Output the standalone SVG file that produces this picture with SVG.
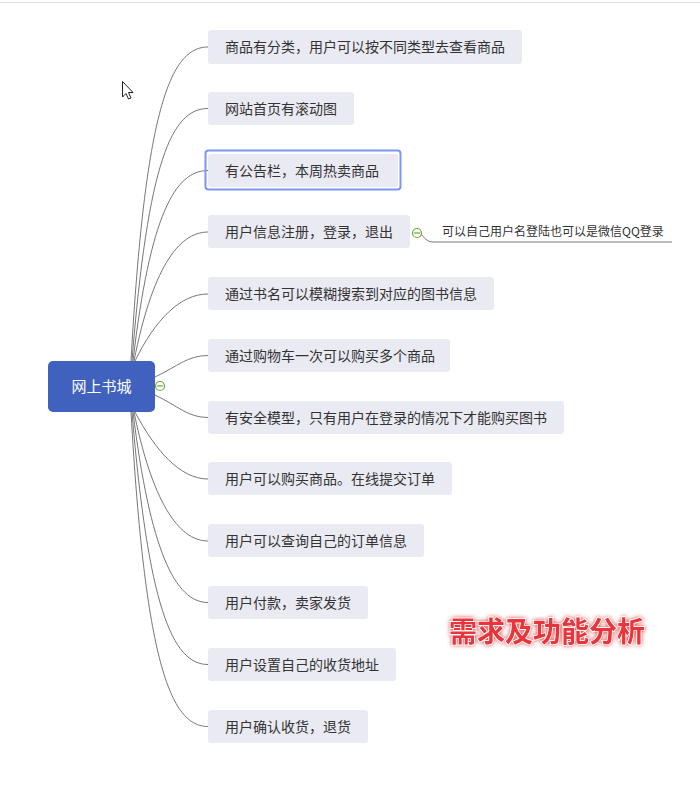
<svg xmlns="http://www.w3.org/2000/svg" width="700" height="785" viewBox="0 0 700 785">
<defs>
<style>
.box{fill:#eaeaf2}
.t{font-family:"Noto Sans CJK SC","Liberation Sans",sans-serif;font-size:14px;fill:#333}
.st{font-family:"Noto Sans CJK SC","Liberation Sans",sans-serif;font-size:12px;fill:#333}
.c{fill:none;stroke:#777;stroke-width:1}
.tog{fill:#fff;stroke:#6aa82e;stroke-width:1.2}
</style>
<filter id="glow" x="-10%" y="-30%" width="120%" height="160%">
<feGaussianBlur in="SourceAlpha" stdDeviation="2.2" result="b"/>
<feFlood flood-color="#e23b3b"/>
<feComposite in2="b" operator="in" result="s"/>
<feMerge><feMergeNode in="s"/><feMergeNode in="SourceGraphic"/></feMerge>
</filter>
</defs>
<rect width="700" height="785" fill="#fff"/>
<line x1="0" y1="2.5" x2="700" y2="2.5" stroke="#e2e2e2" stroke-width="1"/>
<g id="connectors">
<path class="c" d="M131 361 C145 110 170 47 208 47"/>
<path class="c" d="M132 361 C148 160 172 108.5 208 108.5"/>
<path class="c" d="M133 361 C150 215 175 170.5 208 170.5"/>
<path class="c" d="M134 361 C152 270 178 232 208 232"/>
<path class="c" d="M135 361 C155 320 180 294 208 294"/>
<path class="c" d="M155 377 C178 366 188 355.5 208 355.5"/>
<path class="c" d="M155 395 C178 406 188 417.5 208 417.5"/>
<path class="c" d="M135 412 C155 450 180 479 208 479"/>
<path class="c" d="M134 412 C152 500 178 541 208 541"/>
<path class="c" d="M133 412 C150 550 175 602.5 208 602.5"/>
<path class="c" d="M132 412 C148 605 172 664.5 208 664.5"/>
<path class="c" d="M131 412 C145 660 170 726.5 208 726.5"/>
<path class="c" d="M421 234 C426 240 428 242 434 242 L672 242"/>
</g>
<g id="root">
<rect x="48" y="361" width="107" height="51" rx="5" fill="#4161be"/>
<text x="101.5" y="391.5" text-anchor="middle" font-family="Noto Sans CJK SC, sans-serif" font-size="15" fill="#fff">网上书城</text>
<circle class="tog" cx="160" cy="386" r="4.5"/>
<line x1="157" y1="386" x2="163" y2="386" stroke="#6aa82e" stroke-width="1.2"/>
</g>
<g id="n1"><rect class="box" x="208" y="30" width="314" height="34" rx="3"/><text class="t" x="225" y="52">商品有分类，用户可以按不同类型去查看商品</text></g>
<g id="n2"><rect class="box" x="208" y="92" width="146" height="33" rx="3"/><text class="t" x="225" y="113.5">网站首页有滚动图</text></g>
<g id="n3"><rect x="205.5" y="150.5" width="195" height="39" rx="3" fill="none" stroke="#7b96f5" stroke-width="2"/><rect class="box" x="208" y="154" width="190" height="33" rx="3"/><text class="t" x="225" y="175.5">有公告栏，本周热卖商品</text></g>
<g id="n4"><rect class="box" x="208" y="215" width="202" height="33" rx="3"/><text class="t" x="225" y="237">用户信息注册，登录，退出</text>
<circle class="tog" cx="417" cy="233" r="4.5"/><line x1="414" y1="233" x2="420" y2="233" stroke="#6aa82e" stroke-width="1.2"/></g>
<g id="n4a"><text class="st" x="442" y="236">可以自己用户名登陆也可以是微信QQ登录</text></g>
<g id="n5"><rect class="box" x="208" y="277" width="286" height="33" rx="3"/><text class="t" x="225" y="299">通过书名可以模糊搜索到对应的图书信息</text></g>
<g id="n6"><rect class="box" x="208" y="339" width="242" height="33" rx="3"/><text class="t" x="225" y="360.5">通过购物车一次可以购买多个商品</text></g>
<g id="n7"><rect class="box" x="208" y="401" width="356" height="33" rx="3"/><text class="t" x="225" y="422.5">有安全模型，只有用户在登录的情况下才能购买图书</text></g>
<g id="n8"><rect class="box" x="208" y="462" width="244" height="33" rx="3"/><text class="t" x="225" y="484">用户可以购买商品。在线提交订单</text></g>
<g id="n9"><rect class="box" x="208" y="524" width="216" height="33" rx="3"/><text class="t" x="225" y="546">用户可以查询自己的订单信息</text></g>
<g id="n10"><rect class="box" x="208" y="586" width="160" height="33" rx="3"/><text class="t" x="225" y="607.5">用户付款，卖家发货</text></g>
<g id="n11"><rect class="box" x="208" y="648" width="188" height="33" rx="3"/><text class="t" x="225" y="669.5">用户设置自己的收货地址</text></g>
<g id="n12"><rect class="box" x="208" y="710" width="160" height="33" rx="3"/><text class="t" x="225" y="731.5">用户确认收货，退货</text></g>
<g id="title" filter="url(#glow)">
<text x="449" y="642" font-family="Noto Sans CJK SC, sans-serif" font-size="28" font-weight="bold" fill="#e8343a" stroke="#fff" stroke-width="1.5" paint-order="stroke">需求及功能分析</text>
</g>
<g id="cursor">
<path d="M122.5 81.5 L122.5 97 L126 93.5 L128.5 99 L131 98 L128.5 92.5 L133 92.5 Z" fill="#fff" stroke="#222" stroke-width="1" stroke-linejoin="round"/>
</g>
</svg>
